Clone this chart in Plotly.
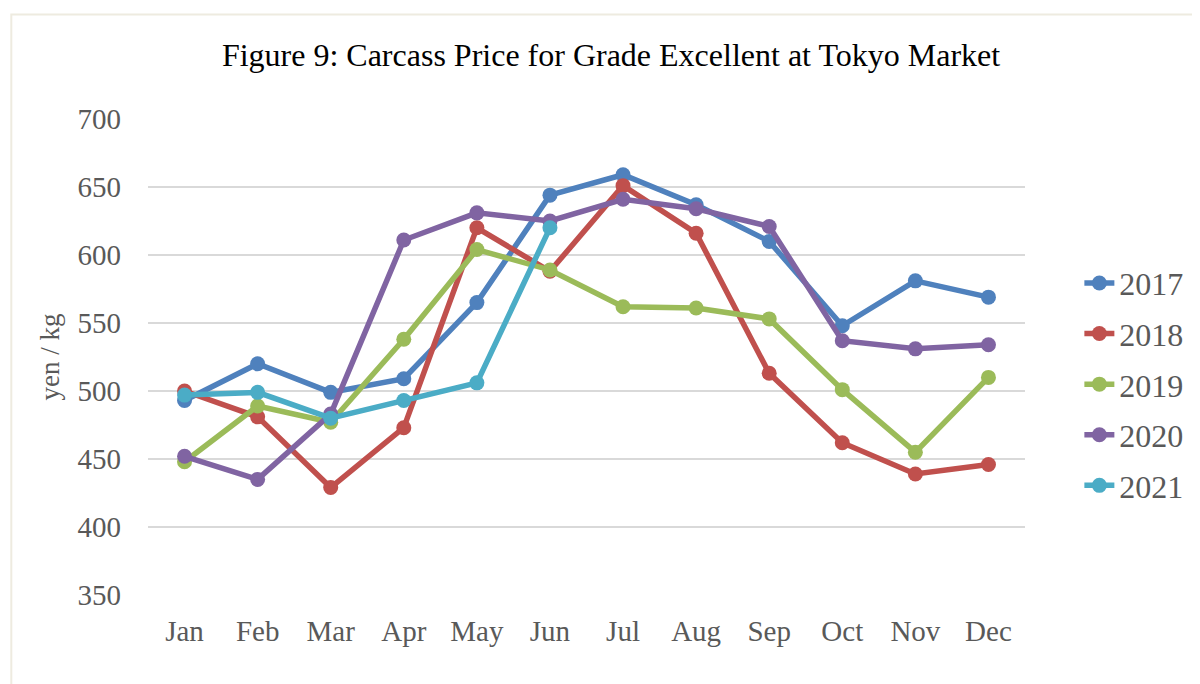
import plotly.graph_objects as go

months = ["Jan", "Feb", "Mar", "Apr", "May", "Jun", "Jul", "Aug", "Sep", "Oct", "Nov", "Dec"]
y2017 = [493, 520, 499, 509, 565, 644, 659, 637, 610, 548, 581, 569]
y2018 = [500, 481, 429, 473, 620, 588, 651, 616, 513, 462, 439, 446]
y2019 = [448, 489, 477, 538, 604, 589, 562, 561, 553, 501, 455, 510]
y2020 = [452, 435, 483, 611, 631, 625, 641, 634, 621, 537, 531, 534]
y2021 = [497, 499, 480, 493, 506, 620]
series_names = ["2017", "2018", "2019", "2020", "2021"]
colors = ["#4F81BD", "#C0504D", "#9BBB59", "#8064A2", "#4BACC6"]

FONT = "Liberation Serif, Times New Roman, serif"

W, H = 1192, 676  # page body has 8px margin
L, T, PW, PH = 140, 111, 879, 476

fig = go.Figure()
for name, vals, col in zip(series_names, [y2017, y2018, y2019, y2020, y2021], colors):
    fig.add_trace(go.Scatter(
        x=months[:len(vals)], y=vals, name=name, mode="lines+markers",
        line=dict(color=col, width=5.5),
        marker=dict(color=col, size=15),
        legendgroup=name,
    ))

fig.update_layout(
    width=W, height=H,
    margin=dict(l=L, r=W - L - PW, t=T, b=H - T - PH),
    paper_bgcolor="white", plot_bgcolor="white",
    font=dict(family=FONT, color="#595959"),
    title=dict(text="Figure 9: Carcass Price for Grade Excellent at Tokyo Market",
               x=603 / W, xanchor="center", xref="container",
               y=1 - 47 / H, yanchor="middle", yref="container",
               font=dict(family=FONT, size=32, color="#000000")),
    showlegend=True,
    legend=dict(x=1.062, xanchor="left", y=0.443, yanchor="middle",
                font=dict(family=FONT, size=32, color="#595959"),
                tracegroupgap=6, bgcolor="rgba(0,0,0,0)"),
    xaxis=dict(type="category", categoryorder="array", categoryarray=months,
               range=[-0.5, 11.5], showgrid=False, zeroline=False, showline=False,
               tickfont=dict(family=FONT, size=29, color="#595959"),
               ticks="", ticklabelstandoff=16),
    yaxis=dict(range=[350, 700], tickvals=[350, 400, 450, 500, 550, 600, 650, 700],
               showgrid=True, gridcolor="#D9D9D9", gridwidth=2, zeroline=False,
               showline=False, ticks="",
               tickfont=dict(family=FONT, size=29, color="#595959"),
               ticklabelstandoff=26,
               title=dict(text="yen / kg", standoff=10,
                          font=dict(family=FONT, size=27, color="#595959"))),
    shapes=[dict(type="rect", xref="paper", yref="paper",
                 x0=(11 - 148) / PW, x1=1.3, y0=-0.3, y1=(595 - 14.5) / PH,
                 line=dict(color="#EEEBE0", width=2), fillcolor="rgba(0,0,0,0)",
                 layer="below")],
)

fig.write_html("out.html")
